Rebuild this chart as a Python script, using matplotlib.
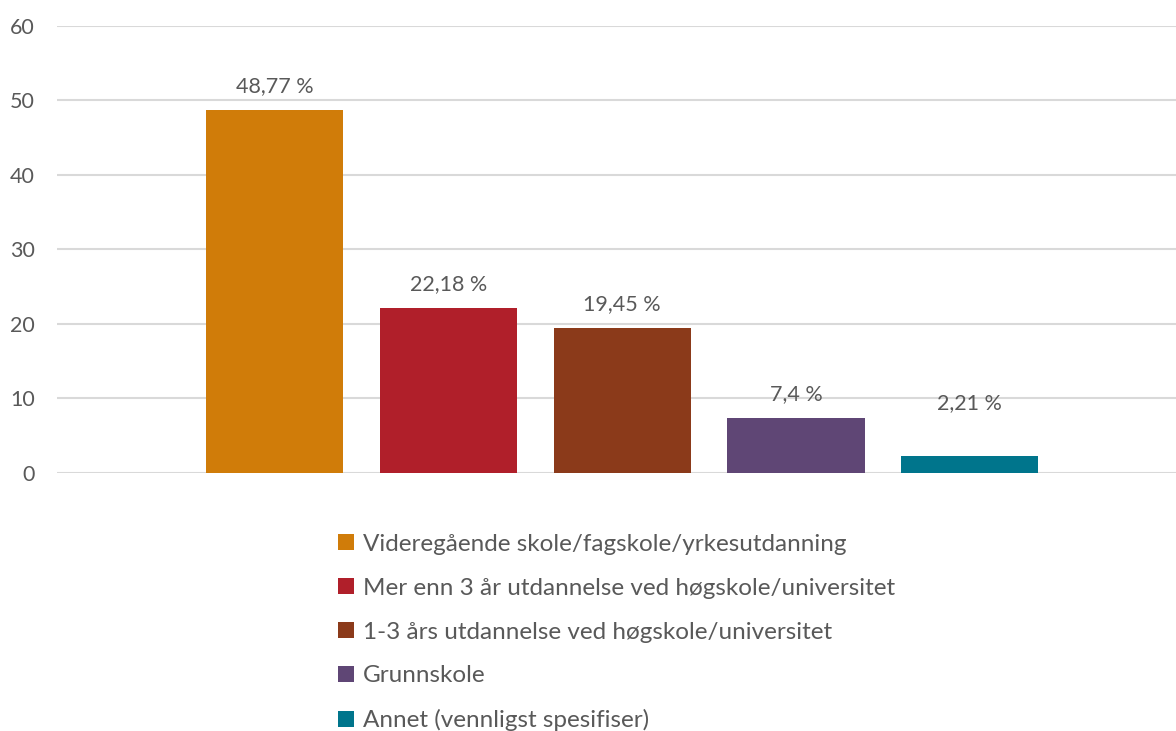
import matplotlib.pyplot as plt

categories = ["Videregående skole/fagskole/yrkesutdanning",
              "Mer enn 3 år utdannelse ved høgskole/universitet",
              "1-3 års utdannelse ved høgskole/universitet",
              "Grunnskole",
              "Annet (vennligst spesifiser)"]
values = [48.77, 22.18, 19.45, 7.4, 2.21]
labels = ["48,77 %", "22,18 %", "19,45 %", "7,4 %", "2,21 %"]
colors = ["#d07c09", "#b01f2a", "#8b3a1a", "#5f4675", "#00758c"]
yticks = [0, 10, 20, 30, 40, 50, 60]

plt.rcParams['font.family'] = ['Lato', 'DejaVu Sans']
textcol = '#595959'

fig = plt.figure(figsize=(11.76, 7.31), dpi=100)
ax = fig.add_axes([0.0485, 0.353, 0.9515, 0.6115])

handles = []
for i, (c, v, col) in enumerate(zip(categories, values, colors)):
    b = ax.bar(i, v, width=0.79, color=col, label=c, zorder=3)
    handles.append(b)
    off = 24 if i < 4 else 53
    ax.annotate(labels[i], (i, v), xytext=(0, off), textcoords='offset pixels',
                ha='center', va='center', fontsize=15.5, color=textcol)

ax.set_xlim(-1.253, 5.187)
ax.set_ylim(0, 60)
ax.set_yticks(yticks)
ax.set_xticks([])
ax.grid(axis='y', color='#d9d9d9', linewidth=1.5, zorder=0)
for s in ax.spines.values():
    s.set_visible(False)
ax.tick_params(axis='y', length=0, labelsize=15.5, labelcolor=textcol, pad=16)

fig.legend(handles=handles, loc='upper left', bbox_to_anchor=(0.279, 0.283),
           frameon=False, fontsize=17.5, labelcolor=textcol,
           handlelength=0.65, handleheight=0.65, handletextpad=0.4,
           labelspacing=0.94, borderaxespad=0)

fig.savefig('out.png', dpi=100)
